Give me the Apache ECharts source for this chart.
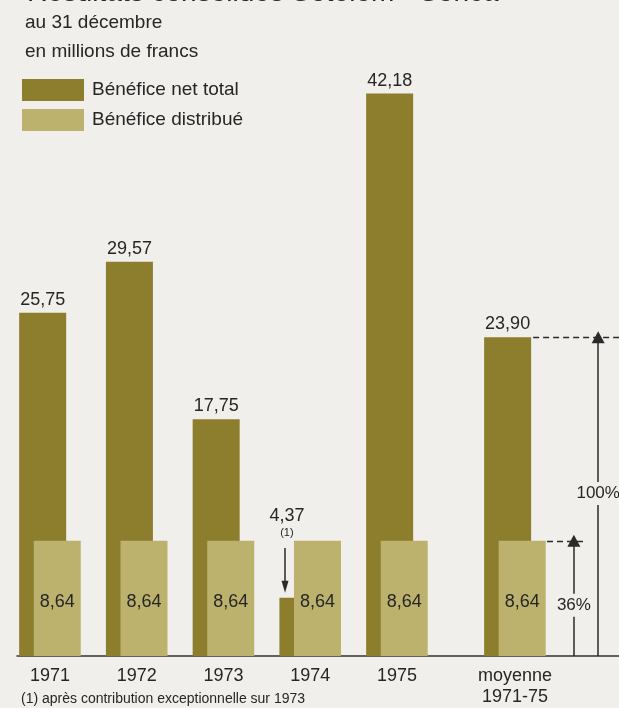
<!DOCTYPE html>
<html>
<head>
<meta charset="utf-8">
<script src="https://cdn.jsdelivr.net/npm/echarts@6/dist/echarts.min.js"></script>
<style>
html,body{margin:0;padding:0;background:#f0efeb;}
#c{width:619px;height:708px;}
</style>
</head>
<body>
<div id="c"></div>
<script>
// ---- data ----
const categories = ['1971', '1972', '1973', '1974', '1975', 'moyenne\n1971-75'];
const netTotal = [25.75, 29.57, 17.75, 4.37, 42.18, 23.90];
const distribue = [8.64, 8.64, 8.64, 8.64, 8.64, 8.64];
const shareLabels = ['100%', '36%'];
const seriesNames = ['Bénéfice net total', 'Bénéfice distribué'];

// ---- layout (positions on the hidden value x axis) ----
const AVG_GAP = 0.36;                 // extra space before the average group
const xPos = categories.map((c, i) => i === categories.length - 1 ? i + AVG_GAP : i);
const X_MIN = -0.38, X_MAX = 6.56;
const avgX = xPos[xPos.length - 1];
const avgNet = netTotal[netTotal.length - 1];
const avgDist = distribue[distribue.length - 1];
const fmt = v => v.toFixed(2).replace('.', ',');

const FONT = 'Liberation Sans';
const TXT = '#262626';
const DARK = '#8c7e2c';
const LIGHT = '#bcb16d';
const BG = '#f0efeb';

const chart = echarts.init(document.getElementById('c'), null, {renderer: 'canvas'});

const darkData = netTotal.map((v, i) => {
  const d = {value: [xPos[i], v]};
  if (i === 3) {
    d.label = {
      formatter: '{a|' + fmt(v) + '}\n{b|(1)}',
      offset: [-16, -54]
    };
  }
  return d;
});
const lightData = distribue.map((v, i) => [xPos[i], v]);

chart.setOption({
  backgroundColor: BG,
  animation: false,
  textStyle: {fontFamily: FONT, color: TXT},
  title: [
    {text: 'Résultats consolidés Sotelem - Sonca', left: 22, top: -26,
     textStyle: {fontFamily: FONT, fontSize: 28, fontWeight: 'normal', color: TXT}},
    {text: 'au 31 décembre', left: 20, top: 8,
     textStyle: {fontFamily: FONT, fontSize: 19, fontWeight: 'normal', color: TXT}},
    {text: 'en millions de francs', left: 20, top: 37,
     textStyle: {fontFamily: FONT, fontSize: 19, fontWeight: 'normal', color: TXT}},
    {text: '(1) après contribution exceptionnelle sur 1973', left: 16, top: 687,
     textStyle: {fontFamily: FONT, fontSize: 14, fontWeight: 'normal', color: TXT}}
  ],
  legend: {
    orient: 'vertical', left: 22, top: 79, padding: 0,
    itemWidth: 62, itemHeight: 22, itemGap: 8,
    icon: 'rect',
    data: seriesNames,
    textStyle: {fontFamily: FONT, fontSize: 19, color: TXT, padding: [0, 0, 0, 3]},
    selectedMode: false
  },
  grid: {left: 17, right: 0, top: 56, bottom: 52},
  xAxis: {
    type: 'value', min: X_MIN, max: X_MAX,
    splitLine: {show: false},
    axisTick: {show: false},
    axisLine: {show: true, lineStyle: {color: '#333', width: 1.5}},
    axisLabel: {
      customValues: xPos,
      formatter: v => {
        const i = xPos.findIndex(p => Math.abs(p - v) < 1e-6);
        return i >= 0 ? categories[i] : '';
      },
      margin: 10, fontFamily: FONT, fontSize: 18, color: TXT, lineHeight: 21
    }
  },
  yAxis: {type: 'value', min: 0, max: 45, show: false, splitLine: {show: false}},
  series: [
    {
      name: seriesNames[0], type: 'bar', barWidth: 47, barGap: '-69%',
      itemStyle: {color: DARK},
      data: darkData,
      clip: false,
      label: {
        show: true, position: 'top', distance: 4,
        fontFamily: FONT, fontSize: 18, color: TXT,
        formatter: p => fmt(p.value[1]),
        rich: {
          a: {fontFamily: FONT, fontSize: 18, color: TXT, lineHeight: 20, align: 'center'},
          b: {fontFamily: FONT, fontSize: 11, color: TXT, lineHeight: 14, align: 'center'}
        }
      }
    },
    {
      name: seriesNames[1], type: 'bar', barWidth: 47, barGap: '-69%',
      itemStyle: {color: LIGHT},
      data: lightData,
      clip: false,
      label: {
        show: true, position: 'inside', offset: [0, 4],
        fontFamily: FONT, fontSize: 18, color: TXT,
        formatter: p => fmt(p.value[1])
      }
    },
    {
      // annotation layer (arrows, dashed guides, percentages)
      name: 'annotations', type: 'line', data: [], silent: true,
      markLine: {
        silent: true, animation: false,
        label: {show: false},
        lineStyle: {color: '#2a2a2a', width: 1.5, type: 'solid'},
        symbol: ['none', 'none'],
        data: [
          // footnote arrow 1974
          [{coord: [2.71, 8.1], symbol: 'none'},
           {coord: [2.71, 5.2], symbol: 'triangle', symbolSize: [7, 12], symbolRotate: 180}],
          // dashed reference lines
          [{coord: [avgX + 0.21, avgNet], lineStyle: {type: [6, 4], width: 1.3}},
           {coord: [X_MAX, avgNet]}],
          [{coord: [avgX + 0.37, avgDist], lineStyle: {type: [6, 4], width: 1.3}},
           {coord: [avgX + 0.82, avgDist]}],
          // vertical arrows
          [{coord: [avgX + 0.96, 0]},
           {coord: [avgX + 0.96, avgNet], symbol: 'triangle', symbolSize: [13, 12]}],
          [{coord: [avgX + 0.68, 0]},
           {coord: [avgX + 0.68, avgDist], symbol: 'triangle', symbolSize: [13, 12]}]
        ]
      },
      markPoint: {
        silent: true, animation: false,
        symbol: 'rect', symbolSize: 0,
        label: {
          show: true, position: 'inside',
          fontFamily: FONT, fontSize: 17, color: TXT,
          backgroundColor: BG, padding: [3, 0, 3, 0],
          formatter: p => p.name
        },
        data: [
          {name: shareLabels[0], coord: [avgX + 0.96, avgNet * 0.51]},
          {name: shareLabels[1], coord: [avgX + 0.68, avgDist * 0.44]}
        ]
      }
    }
  ]
});
</script>
</body>
</html>
